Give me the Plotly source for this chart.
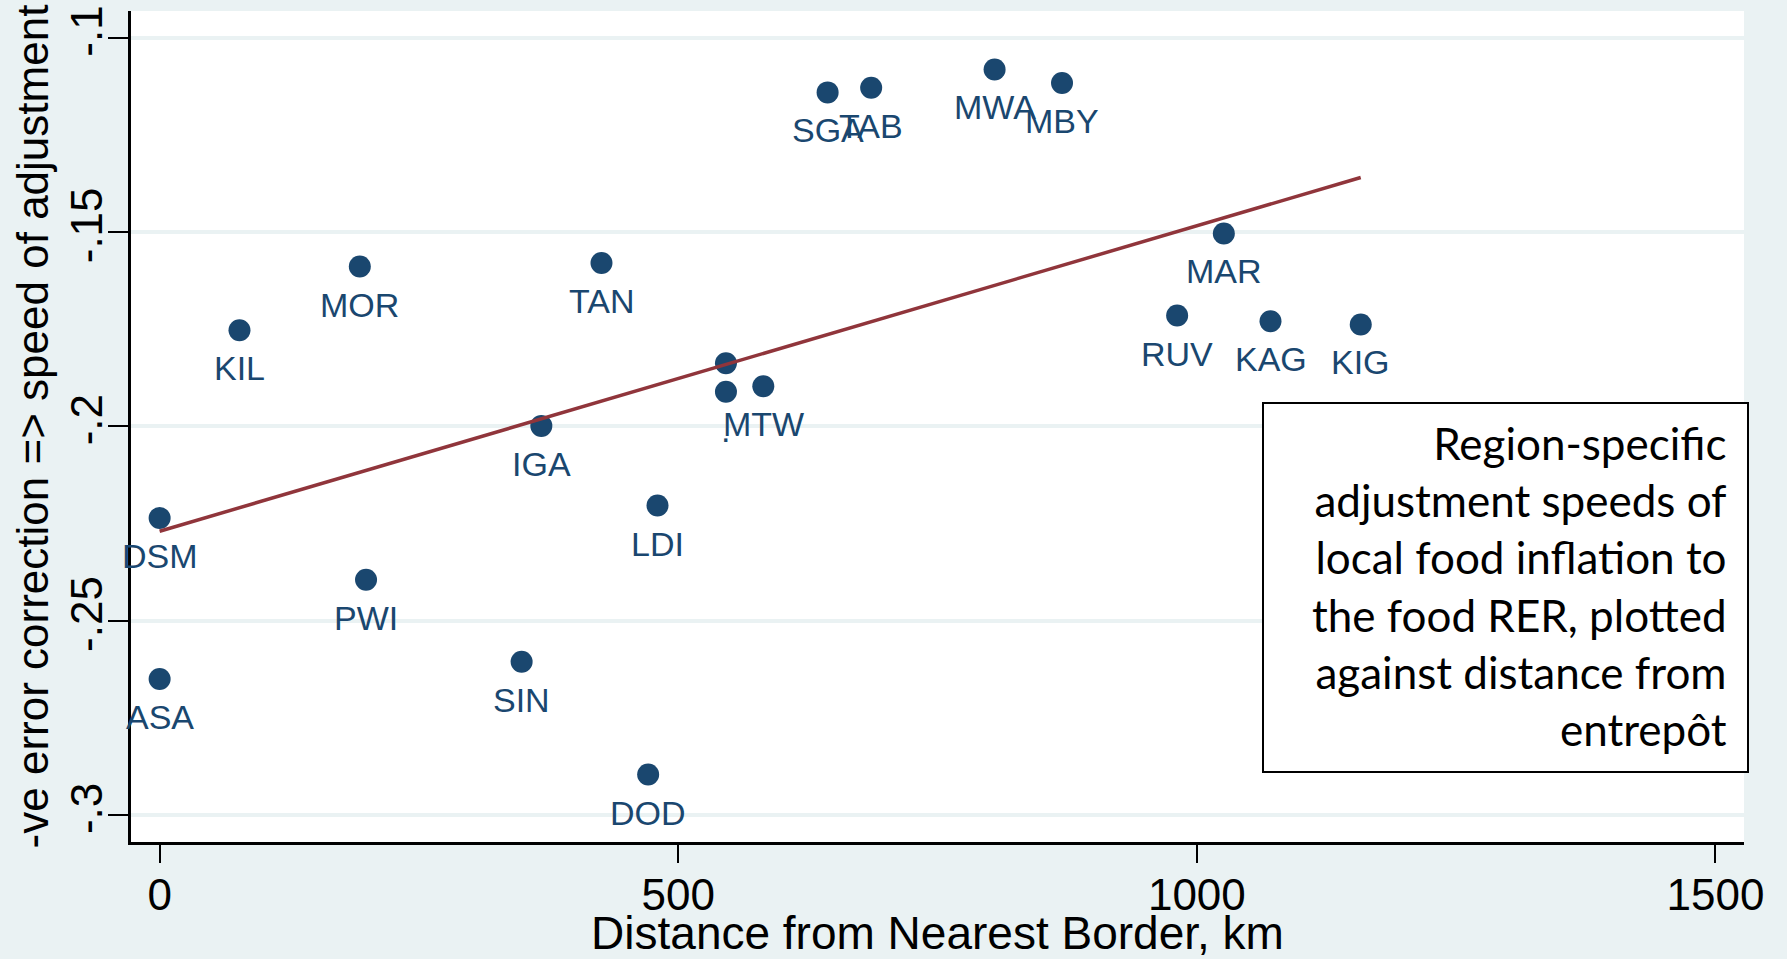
import plotly.graph_objects as go

# ---- data ----
regions = ["SGA", "TAB", "MWA", "MBY", "MOR", "TAN", "KIL", "MAR", "RUV", "KAG", "KIG",
           "", ".", "MTW", "IGA", "LDI", "DSM", "PWI", "SIN", "ASA", "DOD"]
distance_km = [644, 686, 805, 870, 193, 426, 77, 1026, 981, 1071, 1158,
               546, 546, 582, 368, 480, 0, 199, 349, 0, 471]
adj_speed = [-0.1141, -0.1129, -0.1082, -0.1117, -0.1589, -0.1580, -0.1753, -0.1504,
             -0.1715, -0.1730, -0.1738, -0.1838, -0.1911, -0.1897, -0.1999, -0.2204,
             -0.2236, -0.2395, -0.2606, -0.2650, -0.2896]
fit_x = [0, 1158]
fit_y = [-0.227, -0.136]

x_tickvals = [0, 500, 1000, 1500]
x_ticktext = ["0", "500", "1000", "1500"]
y_tickvals = [-0.3, -0.25, -0.2, -0.15, -0.1]
y_ticktext = ["-.3", "-.25", "-.2", "-.15", "-.1"]

note_lines = ["Region-specific", "adjustment speeds of", "local food inflation to",
              "the food RER, plotted", "against distance from", "entrepôt"]

NAVY = "#1A476F"
MAROON = "#90353B"
BG = "#EAF2F3"
FONT = "Liberation Sans"

W, H = 1787, 959
ML, MR, MT, MB = 131, 43, 11, 117
PW, PH = W - ML - MR, H - MT - MB


def px_to_paper_x(px):
    return (px - ML) / PW


def px_to_paper_y(py):
    return (H - MB - py) / PH


fig = go.Figure()

fig.add_trace(go.Scatter(
    x=distance_km, y=adj_speed, mode="markers",
    marker=dict(color=NAVY, size=22, line=dict(width=0)),
    showlegend=False, hoverinfo="skip"))

fig.add_trace(go.Scatter(
    x=fit_x, y=fit_y, mode="lines",
    line=dict(color=MAROON, width=3.5),
    showlegend=False, hoverinfo="skip"))

annotations = []
for name, xv, yv in zip(regions, distance_km, adj_speed):
    if not name:
        continue
    annotations.append(dict(
        x=xv, y=yv, xref="x", yref="y", text=name, showarrow=False,
        xanchor="center", yanchor="middle", yshift=-38,
        font=dict(family=FONT, size=34, color=NAVY)))

# note box text
annotations.append(dict(
    x=px_to_paper_x(1729), y=px_to_paper_y(586), xref="paper", yref="paper",
    text="<br>".join(note_lines), showarrow=False, align="right",
    xanchor="right", yanchor="middle",
    font=dict(family="Lato", size=44, color="black")))

fig.update_layout(
    width=W, height=H,
    margin=dict(l=ML, r=MR, t=MT, b=MB, pad=0),
    paper_bgcolor=BG, plot_bgcolor="white",
    annotations=annotations,
    shapes=[dict(type="rect", xref="paper", yref="paper",
                 x0=px_to_paper_x(1263), x1=px_to_paper_x(1748),
                 y0=px_to_paper_y(772), y1=px_to_paper_y(403),
                 line=dict(color="black", width=2), fillcolor="white", layer="above")],
    xaxis=dict(
        range=[-27.6, 1527.5], tickvals=x_tickvals, ticktext=x_ticktext,
        showgrid=False, zeroline=False,
        showline=True, linecolor="black", linewidth=3,
        ticks="outside", ticklen=18, tickwidth=1.5, tickcolor="black",
        ticklabelstandoff=-6,
        tickfont=dict(family=FONT, size=44, color="black"),
        title=dict(text="Distance from Nearest Border, km", standoff=0,
                   font=dict(family=FONT, size=46, color="black")),
        automargin=False),
    yaxis=dict(
        range=[-0.30695, -0.09316], tickvals=y_tickvals, ticktext=y_ticktext,
        showgrid=True, gridcolor=BG, gridwidth=4, zeroline=False,
        showline=True, linecolor="black", linewidth=2.5,
        ticks="outside", ticklen=20, tickwidth=1.5, tickcolor="black",
        tickangle=-90, ticklabelstandoff=-11,
        tickfont=dict(family=FONT, size=44, color="black"),
        title=dict(text="-ve error correction => speed of adjustment", standoff=0,
                   font=dict(family=FONT, size=44, color="black")),
        automargin=False),
)

fig.write_html(
    "out.html",
    config={"displayModeBar": False},
    post_script="document.body.style.margin='0';document.body.style.overflow='hidden';")
